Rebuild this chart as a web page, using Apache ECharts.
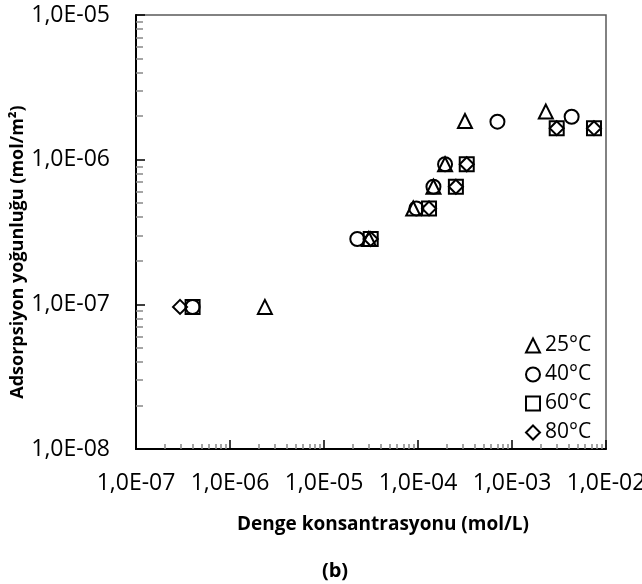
<!DOCTYPE html>
<html>
<head>
<meta charset="utf-8">
<script src="https://cdn.jsdelivr.net/npm/echarts@6/dist/echarts.min.js"></script>
<style>
  html, body { margin: 0; padding: 0; background: #fff; }
  #chart { width: 642px; height: 584px; }
</style>
</head>
<body>
<div id="chart"></div>
<script>
// points: [concentration mol/L, density mol/m2]
var t25 = [[2.35e-6, 9.6e-8], [3.0e-5, 2.83e-7], [8.9e-5, 4.6e-7], [1.46e-4, 6.5e-7],
           [1.94e-4, 9.3e-7], [3.16e-4, 1.85e-6], [2.29e-3, 2.15e-6]];
var t40 = [[4.0e-7, 9.6e-8], [2.26e-5, 2.83e-7], [9.6e-5, 4.6e-7], [1.46e-4, 6.5e-7],
           [1.94e-4, 9.3e-7], [7.0e-4, 1.83e-6], [4.31e-3, 1.98e-6]];
var t60 = [[4.0e-7, 9.6e-8], [3.14e-5, 2.83e-7], [1.31e-4, 4.6e-7], [2.53e-4, 6.5e-7],
           [3.30e-4, 9.3e-7], [2.99e-3, 1.65e-6], [7.45e-3, 1.65e-6]];
var t80 = [[2.94e-7, 9.6e-8], [3.14e-5, 2.83e-7], [1.31e-4, 4.6e-7], [2.53e-4, 6.5e-7],
           [3.30e-4, 9.3e-7], [2.99e-3, 1.65e-6], [7.45e-3, 1.65e-6]];

var seriesNames = ['25°C', '40°C', '60°C', '80°C'];
var seriesSymbols = ['triangle', 'circle', 'rect', 'diamond'];

var xTicks = [1e-7, 1e-6, 1e-5, 1e-4, 1e-3, 1e-2];
var yTicks = [1e-8, 1e-7, 1e-6, 1e-5];

// minor ticks 2..9 inside every decade
var minorOf = function (ticks) {
    var out = [];
    for (var i = 0; i < ticks.length - 1; i++) {
        for (var k = 2; k <= 9; k++) out.push(ticks[i] * k);
    }
    return out;
};
var xMinor = minorOf(xTicks);
var yMinor = minorOf(yTicks);

var fmtE = function (v) {
    var e = Math.round(Math.log10(v));
    var s = Math.abs(e) < 10 ? '0' + Math.abs(e) : '' + Math.abs(e);
    return '1,0E' + (e < 0 ? '-' : '+') + s;
};

var FONT = 'Open Sans';
var myChart = echarts.init(document.getElementById('chart'));

var mainAxis = function (ticks, isX) {
    return {
        type: 'log',
        logBase: 10,
        min: ticks[0],
        max: ticks[ticks.length - 1],
        position: isX ? 'bottom' : 'left',
        axisLine: { show: true, lineStyle: { color: '#000', width: 2 } },
        axisTick: { show: true, inside: true, length: 9, customValues: ticks,
                    lineStyle: { color: '#000', width: 1.5 } },
        minorTick: { show: false },
        splitLine: { show: false },
        axisLabel: {
            customValues: ticks,
            formatter: fmtE,
            color: '#000',
            fontFamily: FONT,
            fontSize: 23,
            margin: isX ? 23 : 26
        }
    };
};
var minorAxis = function (ticks, minor, isX) {
    return {
        type: 'log',
        logBase: 10,
        min: ticks[0],
        max: ticks[ticks.length - 1],
        position: isX ? 'bottom' : 'left',
        axisLine: { show: false },
        axisTick: { show: true, inside: true, length: isX ? 5 : 7, customValues: minor,
                    lineStyle: { color: '#888', width: 1.5 } },
        splitLine: { show: false },
        axisLabel: { show: false }
    };
};

var dataSets = [t25, t40, t60, t80];
var series = [];
for (var i = 0; i < dataSets.length; i++) {
    series.push({
        name: seriesNames[i],
        type: 'scatter',
        xAxisIndex: 0,
        yAxisIndex: 0,
        symbol: seriesSymbols[i],
        symbolSize: 14,
        data: dataSets[i],
        itemStyle: { color: 'transparent', borderColor: '#000', borderWidth: 2, opacity: 1 },
        emphasis: { disabled: true }
    });
}

option = {
    backgroundColor: '#fff',
    animation: false,
    grid: {
        left: 136, top: 15, width: 470, height: 434,
        outerBoundsMode: 'none',
        containLabel: false,
        show: true, borderColor: '#5a5a5a', borderWidth: 1.5, backgroundColor: 'transparent'
    },
    title: [
        {
            text: 'Denge konsantrasyonu (mol/L)',
            left: 378, top: 510, textAlign: 'center',
            textStyle: { fontFamily: FONT, fontWeight: 'bold', fontSize: 19, color: '#000' }
        },
        {
            text: '(b)',
            left: 330, top: 556, textAlign: 'center',
            textStyle: { fontFamily: FONT, fontWeight: 'bold', fontSize: 20, color: '#000' }
        }
    ],
    graphic: [{
        type: 'text',
        x: 18, y: 252,
        rotation: Math.PI / 2,
        style: {
            text: 'Adsorpsiyon yoğunluğu (mol/m²)',
            fontFamily: FONT, fontWeight: 'bold', fontSize: 18, fill: '#000',
            textAlign: 'center', textVerticalAlign: 'middle'
        }
    }],
    legend: {
        orient: 'vertical',
        left: 520,
        top: 330,
        itemWidth: 14,
        itemHeight: 14,
        itemGap: 8,
        selectedMode: false,
        data: seriesNames,
        textStyle: { fontFamily: FONT, fontSize: 21, color: '#000' }
    },
    xAxis: [mainAxis(xTicks, true), minorAxis(xTicks, xMinor, true)],
    yAxis: [mainAxis(yTicks, false), minorAxis(yTicks, yMinor, false)],
    series: series
};
myChart.setOption(option);
</script>
</body>
</html>
